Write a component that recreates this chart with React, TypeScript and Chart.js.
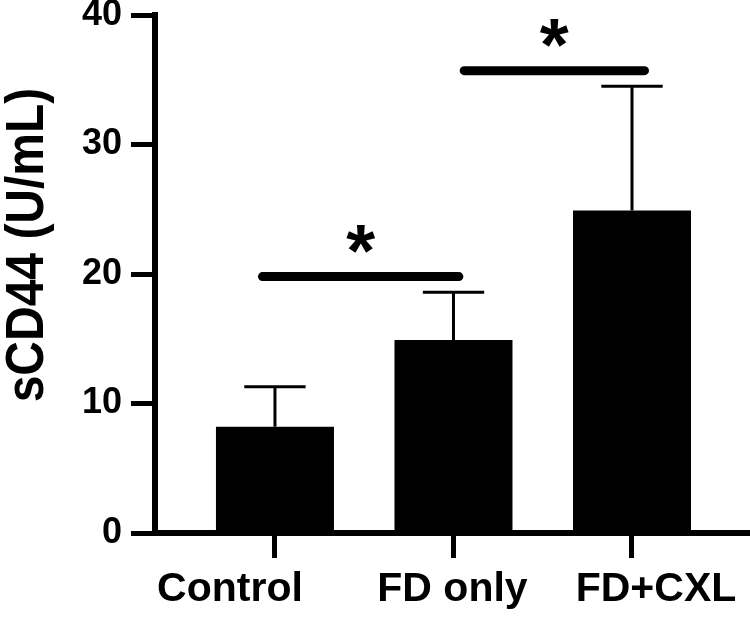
import React, { useEffect, useRef } from "react";
import { Chart, registerables } from "chart.js";
Chart.register(...registerables);

const categories = ["Control", "FD only", "FD+CXL"];
const means = [8.2, 14.9, 24.9];
const errUpper = [11.3, 18.6, 34.5];
const yTicks = [0, 10, 20, 30, 40];
const sigFrom = [-0.07, 1.06];
const sigTo = [1.03, 2.07];
const sigY = [19.8, 35.7];
const sigLabels = ["*", "*"];
const yTitle = "sCD44 (U/mL)";

const FONT = '"Liberation Sans", Arial, Helvetica, sans-serif';
// horizontal nudge of each category label, in pixels (label placement style)
const LABEL_SHIFT = [-45, -1, 24];

const errorBarPlugin = {
  id: "errorBars",
  afterDatasetsDraw(chart: any) {
    const meta = chart.getDatasetMeta(0);
    const yScale = chart.scales.y;
    const ctx = chart.ctx;
    ctx.save();
    ctx.strokeStyle = "#000";
    ctx.lineWidth = 3;
    meta.data.forEach((el: any, i: number) => {
      const x = el.x;
      const top = el.y;
      const yE = yScale.getPixelForValue(errUpper[i]);
      const half = el.width * 0.26;
      ctx.beginPath();
      ctx.moveTo(x, top);
      ctx.lineTo(x, yE);
      ctx.moveTo(x - half, yE);
      ctx.lineTo(x + half, yE);
      ctx.stroke();
    });
    ctx.restore();
  },
};

const annotPlugin = {
  id: "annot",
  afterDraw(chart: any) {
    const ctx = chart.ctx;
    const xs = chart.scales.x;
    const ys = chart.scales.y;
    const area = chart.chartArea;
    ctx.save();
    ctx.fillStyle = "#000";
    // category labels
    ctx.font = `bold 41px ${FONT}`;
    ctx.textAlign = "center";
    ctx.textBaseline = "alphabetic";
    categories.forEach((c, i) => {
      ctx.fillText(c, xs.getPixelForValue(i) + LABEL_SHIFT[i], area.bottom + 68);
    });
    // stars
    ctx.textAlign = "left";
    ctx.textBaseline = "alphabetic";
    sigLabels.forEach((s, i) => {
      const cx = xs.getPixelForValue((sigFrom[i] + sigTo[i]) / 2);
      const cy = ys.getPixelForValue(sigY[i]) - 38;
      ctx.font = `bold 100px ${FONT}`;
      const m0 = ctx.measureText(s);
      const w0 = m0.actualBoundingBoxRight + m0.actualBoundingBoxLeft;
      const size = (100 * 29) / (w0 || 30);
      ctx.font = `bold ${size}px ${FONT}`;
      const m = ctx.measureText(s);
      const asc = m.actualBoundingBoxAscent;
      const desc = m.actualBoundingBoxDescent;
      const left = m.actualBoundingBoxLeft;
      const right = m.actualBoundingBoxRight;
      const bx = cx - (right - left) / 2;
      const by = cy + (asc - desc) / 2;
      ctx.fillText(s, bx, by);
    });
    // y title
    ctx.translate(43, (area.top + area.bottom) / 2 - 29);
    ctx.rotate(-Math.PI / 2);
    ctx.scale(1, 1.12);
    ctx.font = `bold 48px ${FONT}`;
    ctx.textAlign = "center";
    ctx.textBaseline = "alphabetic";
    ctx.fillText(yTitle, 0, 0);
    ctx.restore();
  },
};

export default function App() {
  const ref = useRef<HTMLCanvasElement | null>(null);
  useEffect(() => {
    document.body.style.margin = "0";
    if (!ref.current) return;
    const sigDatasets = sigY.map((y, i) => ({
      type: "line" as const,
      data: [
        { x: sigFrom[i], y },
        { x: sigTo[i], y },
      ],
      borderColor: "#000",
      borderWidth: 9,
      borderCapStyle: "round" as const,
      pointRadius: 0,
      fill: false,
    }));
    const chart = new Chart(ref.current, {
      type: "bar",
      data: {
        datasets: [
          {
            type: "bar",
            data: means.map((v, i) => ({ x: i, y: v })),
            backgroundColor: "#000",
            borderWidth: 0,
            barPercentage: 0.661,
            categoryPercentage: 1,
          } as any,
          ...(sigDatasets as any),
        ],
      },
      options: {
        animation: false,
        responsive: false,
        maintainAspectRatio: false,
        layout: { padding: { top: 15, left: 0, right: 0, bottom: 0 } },
        plugins: { legend: { display: false }, tooltip: { enabled: false }, title: { display: false } },
        scales: {
          x: {
            type: "linear",
            min: -0.672,
            max: 2.661,
            offset: false,
            afterBuildTicks: (scale: any) => {
              scale.ticks = categories.map((_, i) => ({ value: i }));
            },
            afterFit: (scale: any) => {
              scale.height = 84;
              scale.paddingLeft = 0;
              scale.paddingRight = 0;
            },
            grid: {
              display: true,
              drawOnChartArea: false,
              drawTicks: true,
              offset: false,
              tickLength: 25,
              tickWidth: 5,
              tickColor: "#000",
              color: "#000",
            },
            border: { display: true, color: "#000", width: 6 },
            ticks: {
              display: false,
              autoSkip: false,
              maxRotation: 0,
              minRotation: 0,
              callback: (v: any) => categories[Math.round(Number(v))] ?? "",
            },
          },
          y: {
            type: "linear",
            min: 0,
            max: 40,
            afterBuildTicks: (scale: any) => {
              scale.ticks = yTicks.map((v) => ({ value: v }));
            },
            afterFit: (scale: any) => {
              scale.width = 155;
              scale.paddingTop = 0;
              scale.paddingBottom = 0;
            },
            grid: {
              display: true,
              drawOnChartArea: false,
              drawTicks: true,
              tickLength: 24,
              tickWidth: 5,
              tickColor: "#000",
              color: "#000",
            },
            border: { display: true, color: "#000", width: 6 },
            ticks: {
              padding: 9,
              color: "#000",
              font: { family: FONT, size: 36, weight: "bold", lineHeight: 0.8 },
              callback: (v: any) => String(v),
            },
          },
        },
      } as any,
      plugins: [errorBarPlugin, annotPlugin],
    });
    return () => chart.destroy();
  }, []);
  return (
    <div style={{ width: 750, height: 617, background: "#fff" }}>
      <canvas ref={ref} width={750} height={617} style={{ display: "block", width: 750, height: 617 }} />
    </div>
  );
}
